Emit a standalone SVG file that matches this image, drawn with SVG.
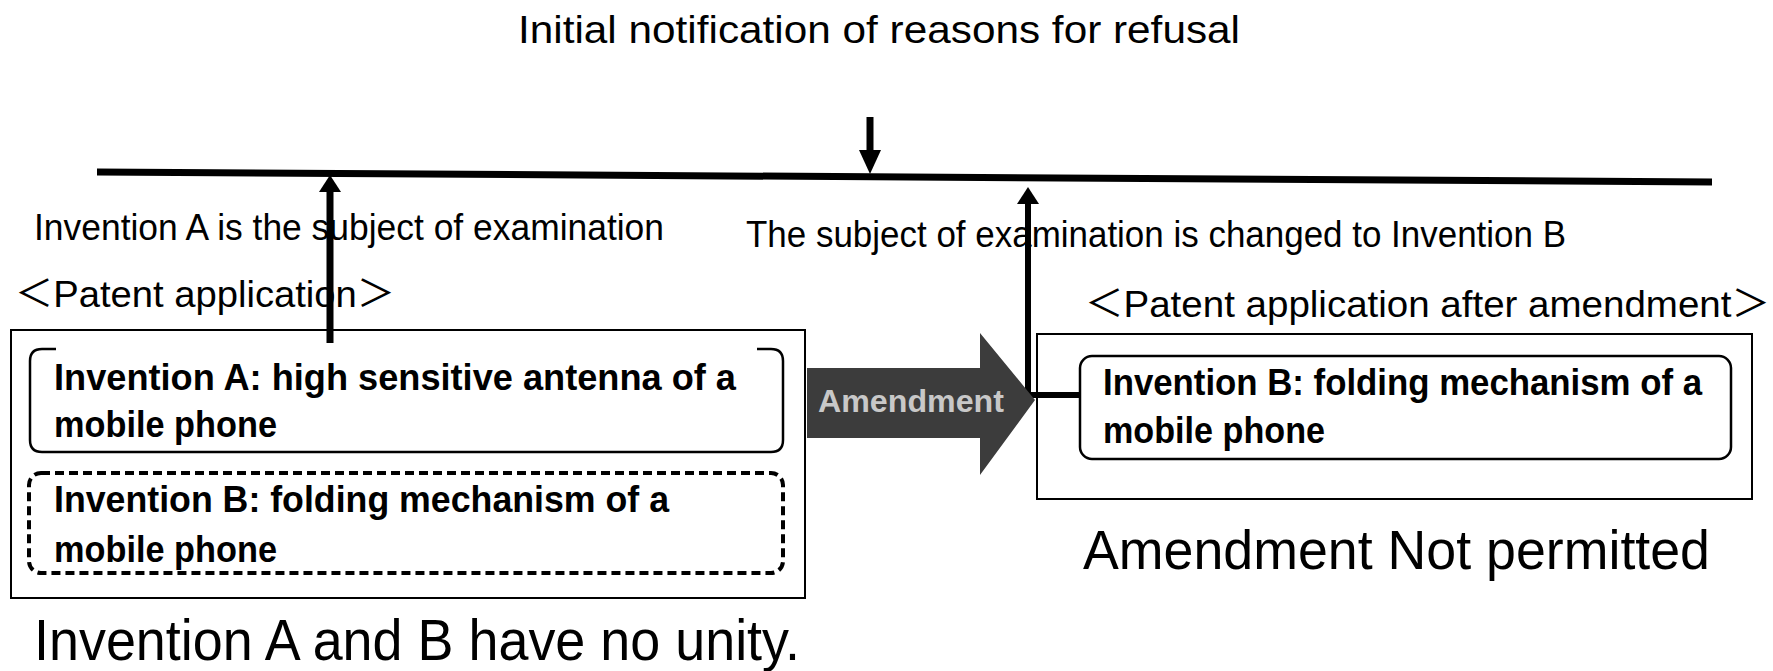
<svg xmlns="http://www.w3.org/2000/svg" width="1773" height="671" viewBox="0 0 1773 671">
<style>
.t{font-family:"Liberation Sans","Noto Sans CJK JP",sans-serif;fill:#000}
.b{font-family:"Liberation Sans","Noto Sans CJK JP",sans-serif;font-weight:bold;fill:#000}
.box{fill:none;stroke:#000;stroke-width:2}
.rbox{fill:none;stroke:#000;stroke-width:2.5}
.conn{stroke:#000;fill:none}
.head{fill:#000}
</style>
<rect width="1773" height="671" fill="#fff"/>
<g id="title"><text class="t" x="518" y="43" font-size="38" textLength="722" lengthAdjust="spacingAndGlyphs">Initial notification of reasons for refusal</text></g>
<g id="connectors">
<line class="conn" x1="97" y1="172" x2="1712" y2="182" stroke-width="7"/>
<line class="conn" x1="870" y1="117" x2="870" y2="154" stroke-width="7"/>
<polygon class="head" points="859,150 881,150 870,174"/>
<line class="conn" x1="330" y1="343" x2="330" y2="188" stroke-width="7"/>
<polygon class="head" points="319,192 341,192 330,175"/>
<polyline class="conn" points="1080,395 1028,395 1028,200" stroke-width="6"/>
<polygon class="head" points="1017,204 1039,204 1028,187"/>
</g>
<g id="label-a"><text class="t" x="34" y="240" font-size="36" textLength="630" lengthAdjust="spacingAndGlyphs">Invention A is the subject of examination</text></g>
<g id="label-b"><text class="t" x="746" y="247" font-size="36" textLength="820" lengthAdjust="spacingAndGlyphs">The subject of examination is changed to Invention B</text></g>
<g id="patent-app">
<text class="t" x="15" y="307" font-size="37" textLength="380" lengthAdjust="spacingAndGlyphs">＜Patent application＞</text>
<rect class="box" x="11" y="330" width="794" height="268"/>
</g>
<g id="invention-a">
<path class="rbox" d="M56,349 H42 Q30,349 30,361 V440 Q30,452 42,452 H771 Q783,452 783,440 V361 Q783,349 771,349 H757"/>
<text class="b" x="54" y="390" font-size="37" textLength="682" lengthAdjust="spacingAndGlyphs">Invention A: high sensitive antenna of a</text>
<text class="b" x="54" y="437" font-size="37" textLength="223" lengthAdjust="spacingAndGlyphs">mobile phone</text>
</g>
<g id="invention-b-left">
<rect x="29" y="473" width="754" height="100" rx="12" fill="none" stroke="#000" stroke-width="4" stroke-dasharray="9 5"/>
<text class="b" x="54" y="512" font-size="37" textLength="615" lengthAdjust="spacingAndGlyphs">Invention B: folding mechanism of a</text>
<text class="b" x="54" y="562" font-size="37" textLength="223" lengthAdjust="spacingAndGlyphs">mobile phone</text>
</g>
<g id="no-unity"><text class="t" x="34" y="660" font-size="58" textLength="766" lengthAdjust="spacingAndGlyphs">Invention A and B have no unity.</text></g>
<g id="amendment-arrow">
<polygon points="807,368 980,368 980,333 1035,400 980,475 980,438 807,438" fill="#3c3c3c"/>
<text x="818" y="412" font-family="Liberation Sans, sans-serif" font-weight="bold" font-size="32" fill="#c8c8c8" textLength="186" lengthAdjust="spacingAndGlyphs">Amendment</text>
</g>
<g id="patent-app-after">
<text class="t" x="1085" y="317" font-size="37" textLength="685" lengthAdjust="spacingAndGlyphs">＜Patent application after amendment＞</text>
<rect class="box" x="1037" y="334" width="715" height="165"/>
</g>
<g id="invention-b-right">
<rect class="rbox" x="1080" y="356" width="651" height="103" rx="12"/>
<text class="b" x="1103" y="395" font-size="37" textLength="599" lengthAdjust="spacingAndGlyphs">Invention B: folding mechanism of a</text>
<text class="b" x="1103" y="443" font-size="37" textLength="222" lengthAdjust="spacingAndGlyphs">mobile phone</text>
</g>
<g id="not-permitted"><text class="t" x="1083" y="569" font-size="56" textLength="627" lengthAdjust="spacingAndGlyphs">Amendment Not permitted</text></g>
</svg>
